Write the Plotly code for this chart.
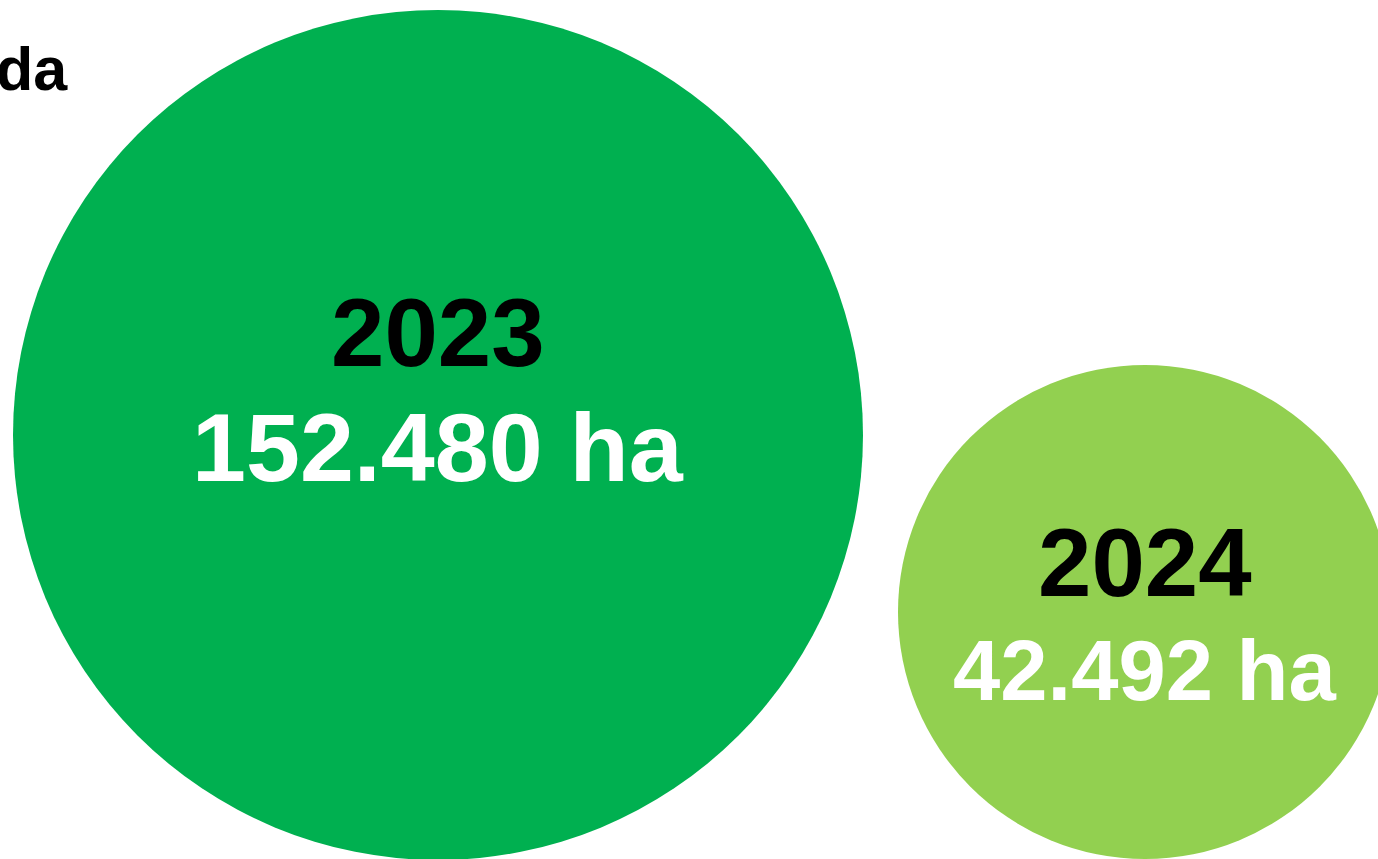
import plotly.graph_objects as go

# ---- data ----
years = ["2023", "2024"]
areas_ha = [152480, 42492]
title_text = "Área desmatada"

# ---- layout / style constants ----
W, H = 1378, 859
circle_colors = ["#00B050", "#92D050"]
centers = [(438, 435), (1145, 612)]
radii = [425, 247]
year_font_sizes = [96, 96]
value_font_sizes = [97, 85]
year_offsets = [-103, -50]
value_offsets = [12, 58]
FONT = "Liberation Sans, Arial, sans-serif"


def fmt(v):
    return f"{v:,}".replace(",", ".") + " ha"


fig = go.Figure()

shapes = []
annotations = []
for i, (yr, val) in enumerate(zip(years, areas_ha)):
    cx, cy = centers[i]
    r = radii[i]
    shapes.append(dict(type="circle", xref="x", yref="y",
                       x0=cx - r, x1=cx + r, y0=cy - r, y1=cy + r,
                       fillcolor=circle_colors[i], line=dict(width=0),
                       layer="below"))
    annotations.append(dict(x=cx, y=cy + year_offsets[i], xref="x", yref="y",
                            text=f"<b>{yr}</b>", showarrow=False,
                            xanchor="center", yanchor="middle",
                            font=dict(family=FONT, size=year_font_sizes[i], color="#000000")))
    annotations.append(dict(x=cx, y=cy + value_offsets[i], xref="x", yref="y",
                            text=f"<b>{fmt(val)}</b>", showarrow=False,
                            xanchor="center", yanchor="middle",
                            font=dict(family=FONT, size=value_font_sizes[i], color="#FFFFFF")))

annotations.append(dict(x=70, y=69, xref="x", yref="y",
                        text=f"<b>{title_text}</b>", showarrow=False,
                        xanchor="right", yanchor="middle",
                        font=dict(family=FONT, size=61, color="#000000")))

# invisible trace so axes are established
fig.add_trace(go.Scatter(x=[0, W], y=[0, H], mode="markers",
                         marker=dict(opacity=0), hoverinfo="skip", showlegend=False))

fig.update_layout(
    width=W, height=H,
    margin=dict(l=0, r=0, t=0, b=0),
    paper_bgcolor="#FFFFFF", plot_bgcolor="#FFFFFF",
    shapes=shapes, annotations=annotations,
    xaxis=dict(range=[0, W], visible=False, fixedrange=True),
    yaxis=dict(range=[H, 0], visible=False, fixedrange=True),
    showlegend=False,
)

fig.write_html("out.html", config={"displayModeBar": False},
               post_script="document.body.style.margin='0';document.body.style.overflow='hidden';")
